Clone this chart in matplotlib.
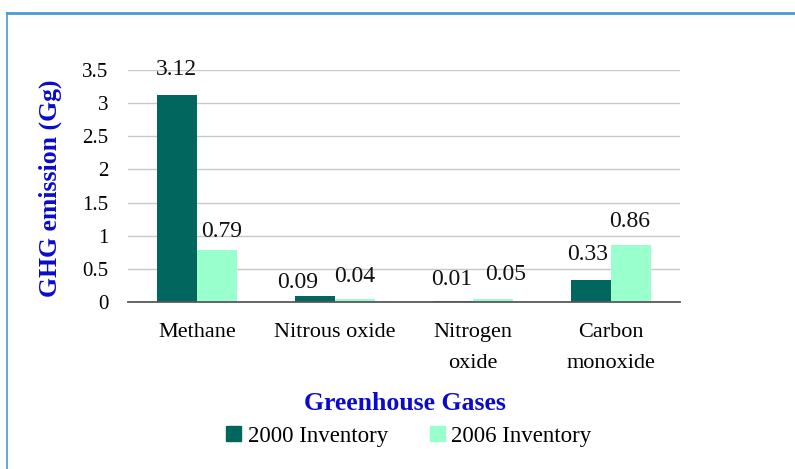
import matplotlib
matplotlib.use("Agg")
import matplotlib.pyplot as plt
import numpy as np
from matplotlib.patches import Rectangle
from matplotlib.lines import Line2D

categories = ["Methane", "Nitrous oxide", "Nitrogen\noxide", "Carbon\nmonoxide"]
series_names = ["2000 Inventory", "2006 Inventory"]
values_2000 = [3.12, 0.09, 0.01, 0.33]
values_2006 = [0.79, 0.04, 0.05, 0.86]
yticks = [0, 0.5, 1, 1.5, 2, 2.5, 3, 3.5]
ytick_labels = ["0", "0.5", "1", "1.5", "2", "2.5", "3", "3.5"]

# label nudges (pixels) to mimic the original's label placement
label_dx_2000 = [-0.5, -18, -2, -4]
label_dy_2000 = [20, 8, 16, 20]
label_dx_2006 = [5, 0, 13, -1]
label_dy_2006 = [13, 17, 19, 18]

c1 = "#00665E"
c2 = "#99FFCC"
blue = "#0A0ACC"
serif = ["Liberation Serif", "DejaVu Serif"]
PX = 72 / 100

fig = plt.figure(figsize=(7.95, 4.69), dpi=100)
ax = fig.add_axes([128/795, 1-302/469, (680-128)/795, (302-70)/469])

x = np.arange(len(categories))
w = 0.287
b1 = ax.bar(x - w/2, values_2000, w, color=c1, label=series_names[0], zorder=3)
b2 = ax.bar(x + w/2, values_2006, w, color=c2, label=series_names[1], zorder=3)

for bars, vals, dxs, dys in ((b1, values_2000, label_dx_2000, label_dy_2000),
                             (b2, values_2006, label_dx_2006, label_dy_2006)):
    for r, v, dx, dy in zip(bars, vals, dxs, dys):
        ax.annotate(f"{v:.2f}", (r.get_x() + r.get_width()/2, v),
                    xytext=(dx*PX, dy*PX), textcoords="offset points",
                    ha="center", va="baseline", fontsize=17,
                    family=serif, color="#111111", zorder=5)

ax.set_xlim(-0.5, 3.5)
ax.set_ylim(0, 3.5)
ax.set_yticks(yticks)
ax.set_yticklabels(ytick_labels, family=serif, fontsize=15)
ax.set_xticks(x)
ax.set_xticklabels(categories, family=serif, fontsize=16, linespacing=1.85, va="top")
ax.tick_params(axis="y", length=0, pad=14)
ax.tick_params(axis="x", length=0, pad=15)
ax.yaxis.grid(True, color="#C8C8C8", linewidth=1.0, zorder=0)
for s in ["top", "right", "left"]:
    ax.spines[s].set_visible(False)
ax.spines["bottom"].set_color("#595959")
ax.spines["bottom"].set_linewidth(1.3)
ax.spines["bottom"].set_zorder(4)

fig.text(50/795, 1-188/469, "GHG emission (Gg)", rotation=90, ha="center", va="center",
         fontsize=18.5, fontweight="bold", color=blue, family=serif)
fig.text(405/795, 1-403/469, "Greenhouse Gases", ha="center", va="center",
         fontsize=18.5, fontweight="bold", color=blue, family=serif)

handles = [Rectangle((0, 0), 1, 1, color=c1), Rectangle((0, 0), 1, 1, color=c2)]
leg = fig.legend(handles, series_names, loc="center", bbox_to_anchor=(409/795, 1-436/469),
                 ncol=2, frameon=False, prop={"family": serif, "size": 16.5},
                 handlelength=0.65, handleheight=0.65, handletextpad=0.3, columnspacing=1.8)

# frame border
fig.add_artist(Line2D([7/795, 7/795], [0, 1-13/469], color="#4A9AD4", linewidth=1.2,
                      transform=fig.transFigure))
fig.add_artist(Line2D([7/795, 1], [1-13/469, 1-13/469], color="#4A9AD4", linewidth=2.0,
                      transform=fig.transFigure))

fig.savefig("out.png", dpi=100)
